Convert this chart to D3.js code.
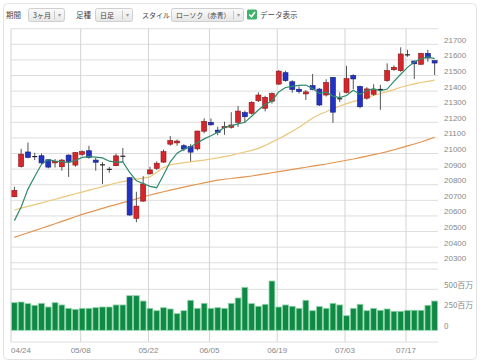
<!DOCTYPE html>
<html>
<head>
<meta charset="utf-8">
<script src="https://cdn.jsdelivr.net/npm/d3@7"></script>
<style>
  body { margin: 0; background: #fff; }
  svg text { font-family: "Liberation Sans", Arial, sans-serif; }
  .jp { font-family: "Noto Sans CJK JP", "Noto Sans", sans-serif !important; }
</style>
</head>
<body>
<svg id="chart" width="480" height="364"></svg>
<script>
// trading days shown on the chart
const dates = ["04/24","04/25","04/26","04/27","04/28","05/01","05/02","05/03","05/04","05/05",
  "05/08","05/09","05/10","05/11","05/12","05/15","05/16","05/17","05/18","05/19",
  "05/22","05/23","05/24","05/25","05/26","05/30","05/31","06/01","06/02","06/05",
  "06/06","06/07","06/08","06/09","06/12","06/13","06/14","06/15","06/16","06/19",
  "06/20","06/21","06/22","06/23","06/26","06/27","06/28","06/29","06/30","07/03",
  "07/05","07/06","07/07","07/10","07/11","07/12","07/13","07/14","07/17","07/18",
  "07/19","07/20","07/21"];

const open = [20723,20916,21010,20980,20986,20960,20940,20915,20990,20926,
  20995,21018,20958,20930,20900,20922,20985,20845,20585,20695,
  20870,20905,20945,21060,21068,21050,21045,21030,21143,21200,
  21150,21165,21168,21200,21262,21258,21338,21290,21335,21445,
  21518,21460,21412,21382,21435,21413,21375,21488,21352,21392,
  21500,21430,21355,21380,21412,21467,21537,21531,21635,21593,
  21572,21642,21595];
const high = [20787,21030,21070,21005,21000,20965,20965,20965,20995,21010,
  21020,21050,20972,20945,20915,21000,21035,20850,20755,20855,
  20915,20950,21025,21112,21090,21060,21060,21146,21226,21225,
  21172,21204,21265,21305,21275,21335,21392,21370,21392,21535,
  21530,21470,21430,21407,21510,21420,21476,21490,21392,21562,
  21508,21435,21425,21444,21440,21578,21565,21681,21665,21595,
  21645,21665,21597];
const low = [20720,20910,20970,20958,20930,20905,20910,20890,20850,20915,
  20985,20967,20890,20805,20877,20918,20945,20600,20560,20690,
  20865,20895,20940,21050,21050,21015,20950,21020,21130,21178,
  21117,21120,21160,21170,21195,21250,21330,21270,21320,21440,
  21460,21390,21385,21343,21405,21305,21365,21197,21330,21386,
  21413,21290,21345,21370,21280,21460,21530,21524,21620,21478,
  21570,21588,21503];
const close = [20764,20996,20975,20981,20940,20913,20950,20958,20950,21006,
  21012,20975,20944,20925,20897,20985,20980,20606,20663,20805,
  20895,20938,21012,21083,21080,21029,21009,21144,21206,21184,
  21136,21174,21183,21272,21236,21328,21375,21360,21384,21528,
  21467,21410,21397,21395,21410,21311,21455,21265,21350,21480,
  21478,21300,21414,21408,21409,21532,21553,21638,21630,21575,
  21641,21612,21580];

// moving averages (5 / 25 / 75 day)
const ma5 = [20570,20658,20772,20853,20931,20961,20952,20948,20942,20955,
  20975,20980,20977,20972,20951,20945,20946,20879,20826,20808,
  20790,20781,20863,20947,21002,21028,21043,21069,21094,21114,
  21136,21169,21177,21190,21200,21239,21279,21314,21337,21395,
  21423,21430,21437,21439,21416,21385,21394,21368,21358,21372,
  21406,21379,21404,21416,21402,21413,21463,21508,21552,21586,
  21607,21619,21608];
const ma25 = [20638,20650,20661,20673,20684,20696,20707,20719,20730,20742,
  20753,20765,20776,20788,20799,20811,20820,20830,20836,20842,
  20850,20880,20910,20928,20935,20942,20947,20953,20958,20965,
  20972,20980,20988,21000,21010,21020,21033,21052,21073,21095,
  21118,21143,21168,21198,21228,21250,21268,21288,21305,21320,
  21333,21345,21360,21372,21385,21397,21410,21425,21436,21446,
  21455,21463,21471];
const ma75 = [20463,20478,20492,20506,20521,20535,20550,20565,20580,20595,
  20610,20623,20636,20649,20661,20673,20685,20697,20709,20722,
  20734,20745,20755,20765,20775,20785,20794,20803,20812,20821,
  20830,20835,20840,20846,20851,20856,20863,20870,20877,20884,
  20891,20898,20905,20912,20919,20926,20933,20941,20949,20957,
  20965,20974,20983,20993,21002,21012,21024,21036,21049,21061,
  21074,21089,21104];

// volume in millions (百万)
const volume = [337,345,325,305,329,284,337,309,268,256,
  268,268,276,284,284,309,309,422,422,357,
  268,239,276,260,203,239,366,268,329,268,
  276,268,329,394,524,325,293,317,601,284,
  309,293,268,366,239,289,268,329,309,178,
  268,317,239,268,244,260,232,232,244,244,
  244,305,357];

const xTicks = ["04/24","05/08","05/22","06/05","06/19","07/03","07/17"];
const priceTicks = [20300,20400,20500,20600,20700,20800,20900,21000,21100,21200,21300,21400,21500,21600,21700];
const priceGrid = [20300,20400,20500,20600,20700,20800,20900,21000,21100,21200,21300,21400,21500,21600,21700,21800];
const volTicks = [0, 250, 500];
const volTickLabels = ["0", "250百万", "500百万"];

const svg = d3.select("#chart");
const left = 11, right = 438;
const gridColor = "#dedede";

// panel
svg.append("rect")
  .attr("x", 3.5).attr("y", 3.5).attr("width", 473).attr("height", 356)
  .attr("rx", 4).attr("fill", "#fff").attr("stroke", "#e2e2e2");

// ---- toolbar ----
let defs = svg.append("defs");
let grad = defs.append("linearGradient").attr("id", "btn").attr("x1", 0).attr("y1", 0).attr("x2", 0).attr("y2", 1);
grad.append("stop").attr("offset", "0%").attr("stop-color", "#fbfbfb");
grad.append("stop").attr("offset", "100%").attr("stop-color", "#e6e6e6");

function label(x, txt, size) {
  svg.append("text").attr("class", "jp")
    .attr("x", x).attr("y", 17.5)
    .style("font-size", size + "px").attr("fill", "#444")
    .text(txt);
}
function button(x, w, txt, size) {
  svg.append("rect")
    .attr("x", x + 0.5).attr("y", 8.5).attr("width", w).attr("height", 13)
    .attr("rx", 2).attr("fill", "url(#btn)").attr("stroke", "#cfcfcf");
  svg.append("text").attr("class", "jp")
    .attr("x", x + 5).attr("y", 17.5)
    .style("font-size", size + "px").attr("fill", "#444")
    .text(txt);
  svg.append("line")
    .attr("x1", x + w - 9.5).attr("x2", x + w - 9.5).attr("y1", 10.5).attr("y2", 19.5)
    .attr("stroke", "#c8c8c8");
  svg.append("text")
    .attr("x", x + w - 5).attr("y", 17)
    .attr("text-anchor", "middle")
    .style("font-size", "6px").attr("fill", "#999")
    .text("▾");
}
label(6, "期間", 7.5);
button(28, 36, "3ヶ月", 7);
label(76, "足種", 7.5);
button(95, 37, "日足", 7);
label(142, "スタイル", 7);
button(171, 72, "ローソク（赤青）", 6.8);
svg.append("rect")
  .attr("x", 247).attr("y", 9.5).attr("width", 10).attr("height", 10)
  .attr("rx", 1.5).attr("fill", "#3fb26c");
svg.append("path")
  .attr("d", "M249.3,14.5 L251.5,16.8 L255,12")
  .attr("fill", "none").attr("stroke", "#fff").attr("stroke-width", 1.6);
label(260, "データ表示", 7.5);

// ---- scales ----
let x = d3.scaleBand()
  .domain(dates)
  .range([left, right]);
let bw = x.bandwidth();
let xc = d => x(d) + bw / 2;

let y = d3.scaleLinear()
  .domain([20260, 21800])
  .range([269, 28.7]);

let yv = d3.scaleLinear()
  .domain([0, 500])
  .range([330.3, 289.3]);

// ---- grid ----
let grid = svg.append("g");
grid.selectAll(".hg").data(priceGrid).enter().append("line")
  .attr("x1", left).attr("x2", right)
  .attr("y1", d => y(d)).attr("y2", d => y(d))
  .attr("stroke", gridColor);
[269, yv(500), 342].forEach(v => {
  grid.append("line").attr("x1", left).attr("x2", right)
    .attr("y1", v).attr("y2", v).attr("stroke", gridColor);
});
grid.append("line").attr("x1", left).attr("x2", left)
  .attr("y1", y(21800)).attr("y2", 342).attr("stroke", "#d2d2d2");
grid.selectAll(".vg").data(xTicks.slice(1)).enter().append("line")
  .attr("x1", d => xc(d) - 1.5).attr("x2", d => xc(d) - 1.5)
  .attr("y1", y(21800)).attr("y2", 342)
  .attr("stroke", "#d4d4d4");

// ---- axis labels ----
svg.selectAll(".pl").data(priceTicks).enter().append("text")
  .attr("x", 444).attr("y", d => y(d) - 1.5)
  .style("font-size", "8px").attr("fill", "#888")
  .text(d => d);
svg.selectAll(".vl").data(volTicks).enter().append("text")
  .attr("class", "jp")
  .attr("x", 444).attr("y", d => yv(d) - 1.5)
  .style("font-size", "8px").attr("fill", "#888")
  .text((d, i) => volTickLabels[i]);
svg.selectAll(".xl").data(xTicks).enter().append("text")
  .attr("x", (d, i) => i === 0 ? left : xc(d) - 1.5)
  .attr("y", 353)
  .attr("text-anchor", (d, i) => i === 0 ? "start" : "middle")
  .style("font-size", "8px").attr("fill", "#888")
  .text(d => d);

// ---- volume bars ----
svg.append("g").selectAll("rect").data(dates).enter().append("rect")
  .attr("x", d => x(d) + 0.5)
  .attr("width", bw - 1)
  .attr("y", (d, i) => yv(volume[i]))
  .attr("height", (d, i) => yv(0) - yv(volume[i]))
  .attr("fill", "#0e8a45")
  .attr("stroke", "#8fd3a8")
  .attr("stroke-width", 0.8);

// ---- moving averages ----
function maLine(vals, color) {
  svg.append("path")
    .datum(dates)
    .attr("fill", "none")
    .attr("stroke", color)
    .attr("stroke-width", 1.2)
    .attr("d", d3.line()
      .x(d => xc(d))
      .y((d, i) => y(vals[i])));
}
maLine(ma75, "#e39552");
maLine(ma25, "#ebc77a");

// ---- candles ----
let candles = svg.append("g");
dates.forEach(function(d, i) {
  let cx = xc(d);
  candles.append("line")
    .attr("x1", cx).attr("x2", cx)
    .attr("y1", y(high[i])).attr("y2", y(low[i]))
    .attr("stroke", "#555").attr("stroke-width", 1);
  let top = y(Math.max(open[i], close[i]));
  let bot = y(Math.min(open[i], close[i]));
  if (bot - top < 1.2) {
    candles.append("line")
      .attr("x1", cx - 2.5).attr("x2", cx + 2.5)
      .attr("y1", (top + bot) / 2).attr("y2", (top + bot) / 2)
      .attr("stroke", "#222").attr("stroke-width", 1.2);
  } else {
    let up = close[i] >= open[i];
    candles.append("rect")
      .attr("x", cx - 2.5).attr("width", 5)
      .attr("y", top).attr("height", bot - top)
      .attr("fill", up ? "#d6262c" : "#2233c4")
      .attr("stroke", up ? "#8a1616" : "#151f7c")
      .attr("stroke-width", 0.6);
  }
});

maLine(ma5, "#2f8c6d");
</script>
</body>
</html>
